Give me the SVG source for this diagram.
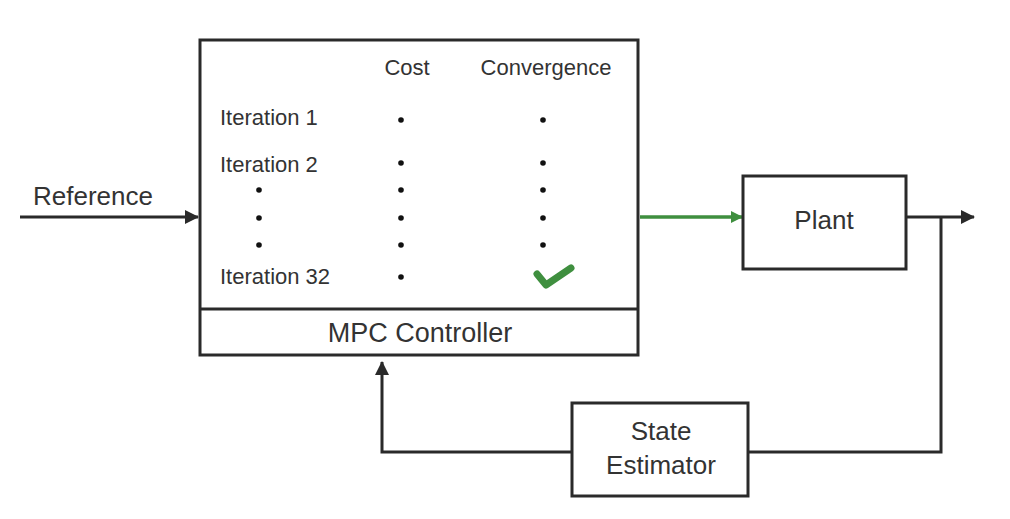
<svg xmlns="http://www.w3.org/2000/svg" width="1010" height="519" viewBox="0 0 1010 519">
<style>
.box{fill:#fff;stroke:#2a2a2a;stroke-width:3}
.ln{fill:none;stroke:#2a2a2a;stroke-width:3}
.t{font-family:"Liberation Sans",Arial,sans-serif;fill:#333}
.dot{fill:#111}
</style>
<defs>
<marker id="ag" markerWidth="12" markerHeight="12" refX="11" refY="6" orient="auto" markerUnits="userSpaceOnUse" viewBox="0 0 12 12"><path d="M0,0 L12,6 L0,12 z" fill="#3f8f3f"/></marker>
<marker id="ab" markerWidth="14" markerHeight="14" refX="13" refY="7" orient="auto" markerUnits="userSpaceOnUse" viewBox="0 0 14 14"><path d="M0,0 L14,7 L0,14 z" fill="#2a2a2a"/></marker>
</defs>
<rect width="1010" height="519" fill="#fff"/>
<g id="connectors">
<line class="ln" x1="20" y1="217" x2="198" y2="217" marker-end="url(#ab)"/>
<text class="t" x="33" y="205" font-size="26">Reference</text>
<line x1="640" y1="217" x2="742" y2="217" stroke="#3f8f3f" stroke-width="3.5" marker-end="url(#ag)"/>
<line class="ln" x1="906" y1="217" x2="974" y2="217" marker-end="url(#ab)"/>
<polyline class="ln" points="941,217 941,452 748,452"/>
<polyline class="ln" points="572,452 382,452 382,362" marker-end="url(#ab)"/>
</g>
<g id="mpc">
<rect class="box" x="200" y="40" width="438" height="315"/>
<line class="ln" x1="200" y1="309" x2="638" y2="309"/>
<text class="t" x="407" y="75" font-size="22" text-anchor="middle">Cost</text>
<text class="t" x="546" y="75" font-size="22" text-anchor="middle">Convergence</text>
<text class="t" x="220" y="125" font-size="22">Iteration 1</text>
<text class="t" x="220" y="172" font-size="22">Iteration 2</text>
<text class="t" x="220" y="284" font-size="22">Iteration 32</text>
<g class="dot">
<circle cx="259" cy="190" r="2.8"/><circle cx="259" cy="218" r="2.8"/><circle cx="259" cy="245" r="2.8"/>
<circle cx="401" cy="120" r="2.8"/><circle cx="401" cy="163" r="2.8"/><circle cx="401" cy="190" r="2.8"/><circle cx="401" cy="218" r="2.8"/><circle cx="401" cy="245" r="2.8"/><circle cx="401" cy="277" r="2.8"/>
<circle cx="543" cy="120" r="2.8"/><circle cx="543" cy="163" r="2.8"/><circle cx="543" cy="190" r="2.8"/><circle cx="543" cy="218" r="2.8"/><circle cx="543" cy="245" r="2.8"/>
</g>
<polyline points="537,274 546,285 571,268" fill="none" stroke="#3f8f3f" stroke-width="7" stroke-linecap="round" stroke-linejoin="round"/>
<text class="t" x="420" y="342" font-size="27" text-anchor="middle">MPC Controller</text>
</g>
<g id="plant">
<rect class="box" x="743" y="176" width="163" height="93"/>
<text class="t" x="824" y="229" font-size="26" text-anchor="middle">Plant</text>
</g>
<g id="estimator">
<rect class="box" x="572" y="403" width="176" height="93"/>
<text class="t" x="661" y="440" font-size="26" text-anchor="middle">State</text>
<text class="t" x="661" y="474" font-size="26" text-anchor="middle">Estimator</text>
</g>
</svg>
